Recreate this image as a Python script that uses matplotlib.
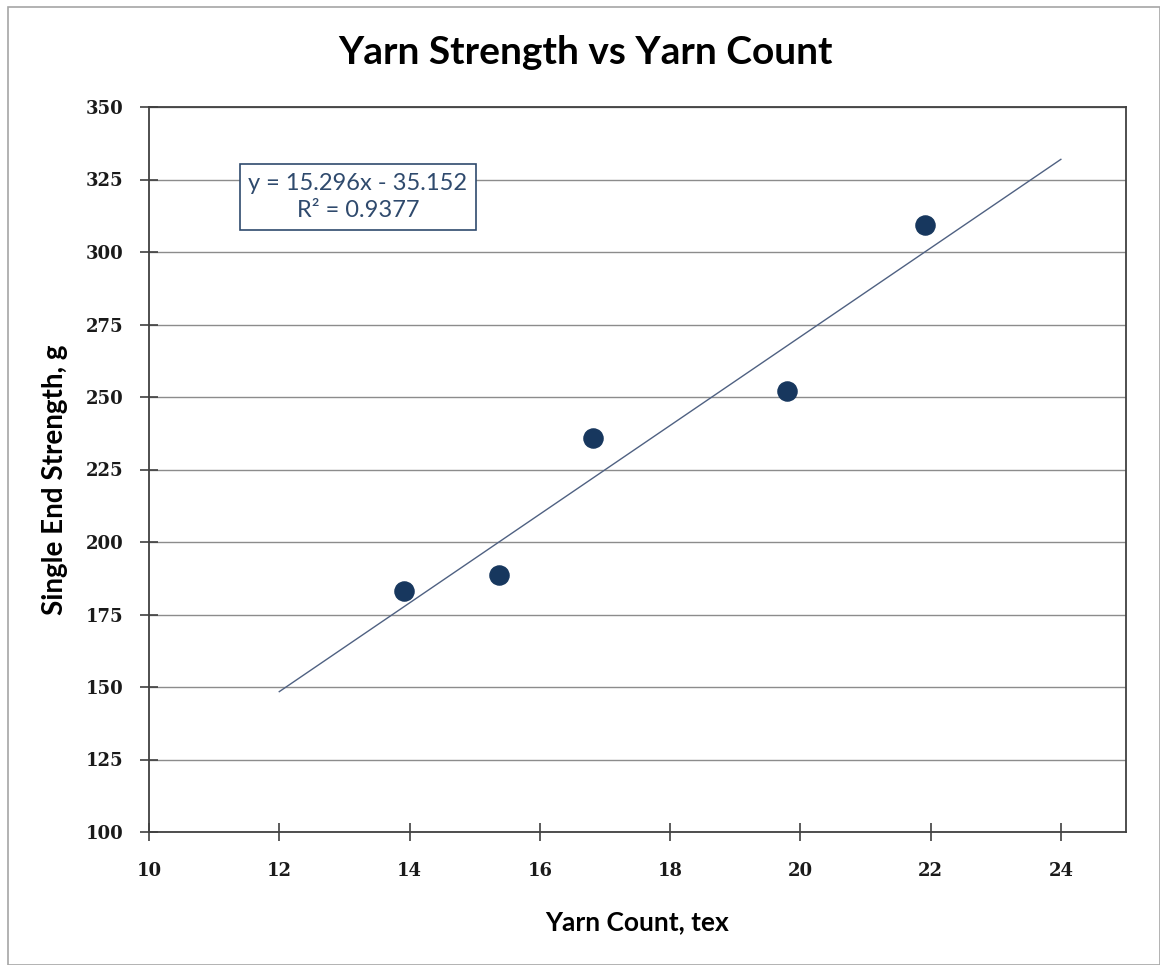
import numpy as np
import matplotlib.pyplot as plt
from matplotlib.patches import Rectangle

# Yarn data
yarn_count = [13.92, 15.37, 16.81, 19.80, 21.92]
strength = [183.0, 188.5, 235.8, 252.2, 309.3]

# Linear trendline as reported
slope = 15.296
intercept = -35.152
r2 = 0.9377
trend_x = np.array([12, 24])

fig = plt.figure(figsize=(11.6, 9.65), dpi=100)
fig.patches.append(Rectangle((8/1160, 0), 1 - 8/1160, 1 - 7/965, transform=fig.transFigure,
                             fill=False, edgecolor='#a6a6a6', linewidth=1.2))
ax = fig.add_axes([149/1160, 1 - 832/965, (1126 - 149)/1160, (832 - 107)/965])

ax.yaxis.grid(True, color='#8c8c8c', linewidth=1.0)
ax.set_axisbelow(True)
ax.plot(trend_x, slope*trend_x + intercept, color='#4f6182', linewidth=1.0, zorder=2)
ax.scatter(yarn_count, strength, s=190, color='#17375e', zorder=3)

ax.set_xlim(10, 25)
ax.set_ylim(100, 350)
ax.set_xticks(np.arange(10, 25, 2))
ax.set_yticks(np.arange(100, 351, 25))
for s in ax.spines.values():
    s.set_color('#404040')
    s.set_linewidth(1.3)
ax.tick_params(direction='inout', length=13, width=1.2, color='#404040')
ax.tick_params(axis='x', pad=15)
ax.tick_params(axis='y', pad=12)
for lbl in ax.get_xticklabels() + ax.get_yticklabels():
    lbl.set_fontfamily('DejaVu Serif')
    lbl.set_fontweight('bold')
    lbl.set_fontsize(13)
    lbl.set_color('#1a1a1a')

ax.set_xlabel('Yarn Count, tex', fontfamily='Lato', fontweight='bold', fontsize=19, labelpad=22)
fig.text(55/1160, 1 - 480/965, 'Single End Strength, g', rotation=90, ha='center', va='center',
         fontfamily='Lato', fontweight='bold', fontsize=20)
fig.text(586/1160, 1 - 52/965, 'Yarn Strength vs Yarn Count', ha='center', va='center',
         fontfamily='Lato', fontweight='bold', fontsize=28)

ax.text(358/1160, 1 - 197/965, 'y = {:.3f}x - {:.3f}\nR² = {:.4f}'.format(slope, -intercept, r2),
        transform=fig.transFigure, ha='center', va='center', multialignment='center',
        fontfamily='Lato', fontsize=17, color='#2f4a6d', linespacing=1.4,
        bbox=dict(boxstyle='square,pad=0.38', facecolor='white', edgecolor='#2f4a6d', linewidth=1.2))

fig.savefig('out.png', dpi=100)
